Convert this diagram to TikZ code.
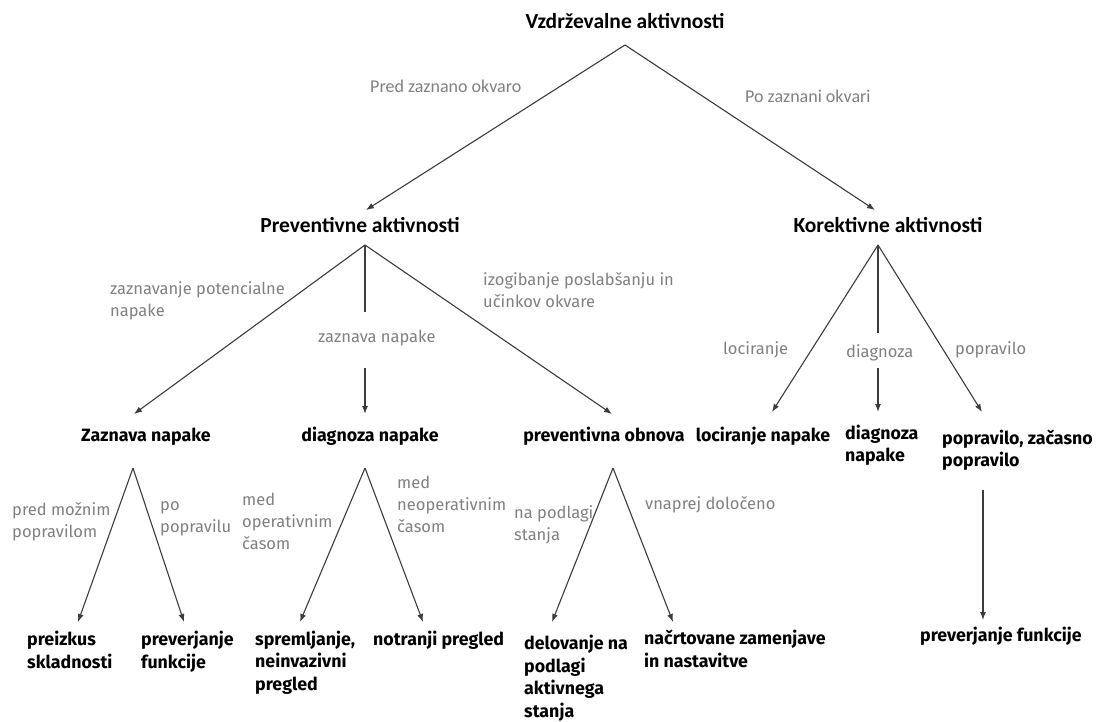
\documentclass[tikz,border=0pt]{standalone}
\usepackage{fontspec}
\setmainfont{Fira Sans}
\newfontfamily\carl{Carlito}
\usetikzlibrary{arrows.meta}
\definecolor{lbl}{HTML}{808080}
\definecolor{ln}{HTML}{3C3C3C}
\tikzset{
  nd/.style={font=\bfseries\fontsize{17.8}{22.5}\selectfont, inner sep=0pt, align=left, anchor=base west, text=black},
  ndc/.style={font=\bfseries\fontsize{17.8}{22.5}\selectfont, inner sep=0pt, anchor=base, text=black},
  ttl/.style={font=\carl\bfseries\fontsize{21.5}{24}\selectfont, inner sep=0pt, anchor=base, text=black},
  lb/.style={font=\fontsize{16.5}{22}\selectfont, inner sep=0pt, align=left, anchor=base west, text=lbl},
  lbt/.style={font=\carl\fontsize{18}{22}\selectfont, inner sep=0pt, anchor=base west, text=lbl},
  conn/.style={draw=ln, line width=1.1pt, -{Latex[length=8pt,width=6pt]}},
  seg/.style={draw=ln, line width=1.1pt}
}
\begin{document}
\begin{tikzpicture}[x=1pt,y=-1pt]
\useasboundingbox (0,0) rectangle (1096,722);
% main nodes
\node[ttl] (vz) at (625,29) {Vzdrževalne aktivnosti};
\node[ttl] (pre) at (360,233) {Preventivne aktivnosti};
\node[ttl] (kor) at (888,233) {Korektivne aktivnosti};
% level 2
\node[ndc] (zaz) at (146,441) {Zaznava napake};
\node[ndc] (dn) at (370,441) {diagnoza napake};
\node[ndc] (po) at (604,441) {preventivna obnova};
\node[ndc] (loc) at (763,441) {lociranje napake};
\node[nd] (dg) at (845,461.5) {diagnoza\\napake};
\node[nd] (pop) at (942,466.5) {popravilo, začasno\\popravilo};
% level 3
\node[nd] (pr) at (27,668) {preizkus\\skladnosti};
\node[nd] (pf) at (141,668) {preverjanje\\funkcije};
\node[nd] (sp) at (255,690) {spremljanje,\\neinvazivni\\pregled};
\node[nd] (np) at (373,645) {notranji pregled};
\node[nd] (dl) at (524,717) {delovanje na\\podlagi\\aktivnega\\stanja};
\node[nd] (nz) at (644,667) {načrtovane zamenjave\\in nastavitve};
\node[nd] (pf2) at (920,641) {preverjanje funkcije};
% labels
\node[lbt] (l1) at (370,93) {Pred zaznano okvaro};
\node[lbt] (l2) at (745,103) {Po zaznani okvari};
\node[lb] (l3) at (110,317) {zaznavanje potencialne\\napake};
\node[lb] (l4) at (318,343) {zaznava napake};
\node[lb] (l5) at (483,308) {izogibanje poslabšanju in\\učinkov okvare};
\node[lb] (l6) at (723,355) {lociranje};
\node[lb] (l7) at (846,358) {diagnoza};
\node[lb] (l8) at (955,355) {popravilo};
\node[lb] (l9) at (12,537) {pred možnim\\popravilom};
\node[lb] (l10) at (160,532) {po\\popravilu};
\node[lb] (l11) at (242,549) {med\\operativnim\\časom};
\node[lb] (l12) at (397,532) {med\\neoperativnim\\časom};
\node[lb] (l13) at (514,540) {na podlagi\\stanja};
\node[lb] (l14) at (645,509) {vnaprej določeno};
% connector points
\coordinate (topA) at (625,45);
\coordinate (preT) at (366,210);
\coordinate (korT) at (875,210);
\coordinate (preA) at (365,245);
\coordinate (zazT) at (134,414);
\coordinate (dnM1) at (365,312);
\coordinate (dnM2) at (365,368);
\coordinate (dnT) at (365,414);
\coordinate (poT) at (612,414);
\coordinate (korA) at (878,245);
\coordinate (locT) at (772,412);
\coordinate (dgM1) at (878,333);
\coordinate (dgM2) at (878,368);
\coordinate (dgT) at (878,412);
\coordinate (popT) at (982,412);
\coordinate (zA) at (133,468);
\coordinate (prT) at (78,622);
\coordinate (pfT) at (184,622);
\coordinate (dA) at (365,468);
\coordinate (spT) at (300,622);
\coordinate (npT) at (423,622);
\coordinate (oA) at (613,468);
\coordinate (dlT) at (552,622);
\coordinate (nzT) at (673,622);
\coordinate (pA) at (983,490);
\coordinate (pfT2) at (983,620);
% connectors
\draw[conn] (topA) -- (preT);
\draw[conn] (topA) -- (korT);
\draw[conn] (preA) -- (zazT);
\draw[seg] (preA) -- (dnM1);
\draw[conn] (dnM2) -- (dnT);
\draw[conn] (preA) -- (poT);
\draw[conn] (korA) -- (locT);
\draw[seg] (korA) -- (dgM1);
\draw[conn] (dgM2) -- (dgT);
\draw[conn] (korA) -- (popT);
\draw[conn] (zA) -- (prT);
\draw[conn] (zA) -- (pfT);
\draw[conn] (dA) -- (spT);
\draw[conn] (dA) -- (npT);
\draw[conn] (oA) -- (dlT);
\draw[conn] (oA) -- (nzT);
\draw[conn] (pA) -- (pfT2);
\end{tikzpicture}
\end{document}
